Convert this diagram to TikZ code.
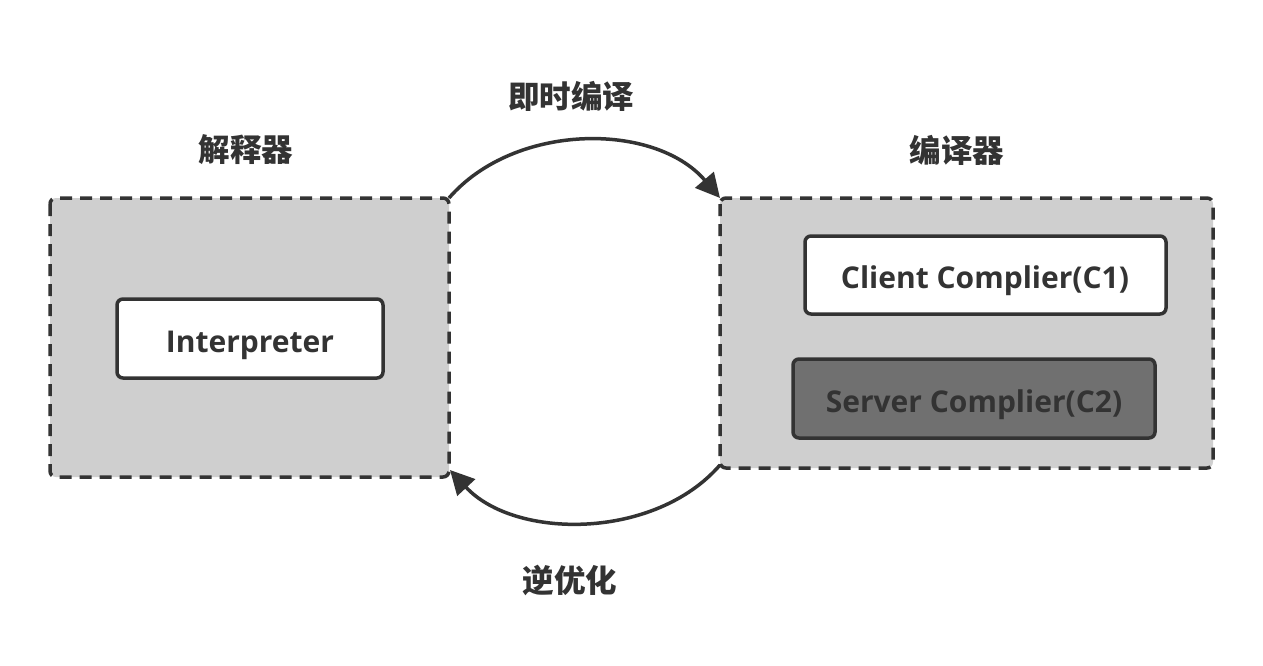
\documentclass[tikz,border=0pt]{standalone}
\usepackage{fontspec}
\setmainfont{Open Sans}
\newfontfamily\cjk{Noto Sans CJK SC}
\usetikzlibrary{arrows.meta}
\definecolor{ink}{HTML}{333333}
\definecolor{panel}{HTML}{CFCFCF}
\definecolor{dark}{HTML}{707070}
\begin{document}
\begin{tikzpicture}[x=1pt,y=-1pt,
  panelbox/.style={draw=ink,fill=panel,line width=3.5pt,dash pattern=on 12pt off 8pt,rounded corners=6pt},
  innerbox/.style={draw=ink,line width=3.5pt,rounded corners=6pt},
  lbl/.style={text=ink,font=\fontsize{30}{34}\selectfont\bfseries},
  cjklbl/.style={text=ink,font=\fontsize{31.5}{36}\selectfont\cjk\bfseries},
  conn/.style={draw=ink,line width=3.5pt,-{Triangle[length=24pt,width=24pt]}}]
\useasboundingbox (0,0) rectangle (1263,666);
\fill[white] (0,0) rectangle (1263,666);
% panels
\draw[panelbox] (50,198) rectangle (449,477);
\draw[panelbox] (720,198) rectangle (1213,468);
\coordinate (L) at (449,198);
\coordinate (R) at (720,198);
\coordinate (Lb) at (450,470);
\coordinate (Rb) at (720,465);
% inner boxes
\draw[innerbox,fill=white] (117,299) rectangle (383,378);
\node[lbl] (interp) at (250,345) {Interpreter};
\draw[innerbox,fill=white] (805,236) rectangle (1166,314);
\node[lbl] (client) at (985,281) {Client Complier(C1)};
\draw[innerbox,fill=dark] (793,359) rectangle (1155,438);
\node[lbl] (server) at (974,405) {Server Complier(C2)};
% labels
\node[cjklbl] (jit) at (571,96) {即时编译};
\node[cjklbl] (interpT) at (246,150) {解释器};
\node[cjklbl] (compT) at (957,150) {编译器};
\node[cjklbl] (deopt) at (570,580) {逆优化};
% arcs
\draw[conn] (L) .. controls (515,122) and (655,122) .. (R);
\draw[conn] (Rb) .. controls (655,540) and (515,540) .. (Lb);
\end{tikzpicture}
\end{document}
